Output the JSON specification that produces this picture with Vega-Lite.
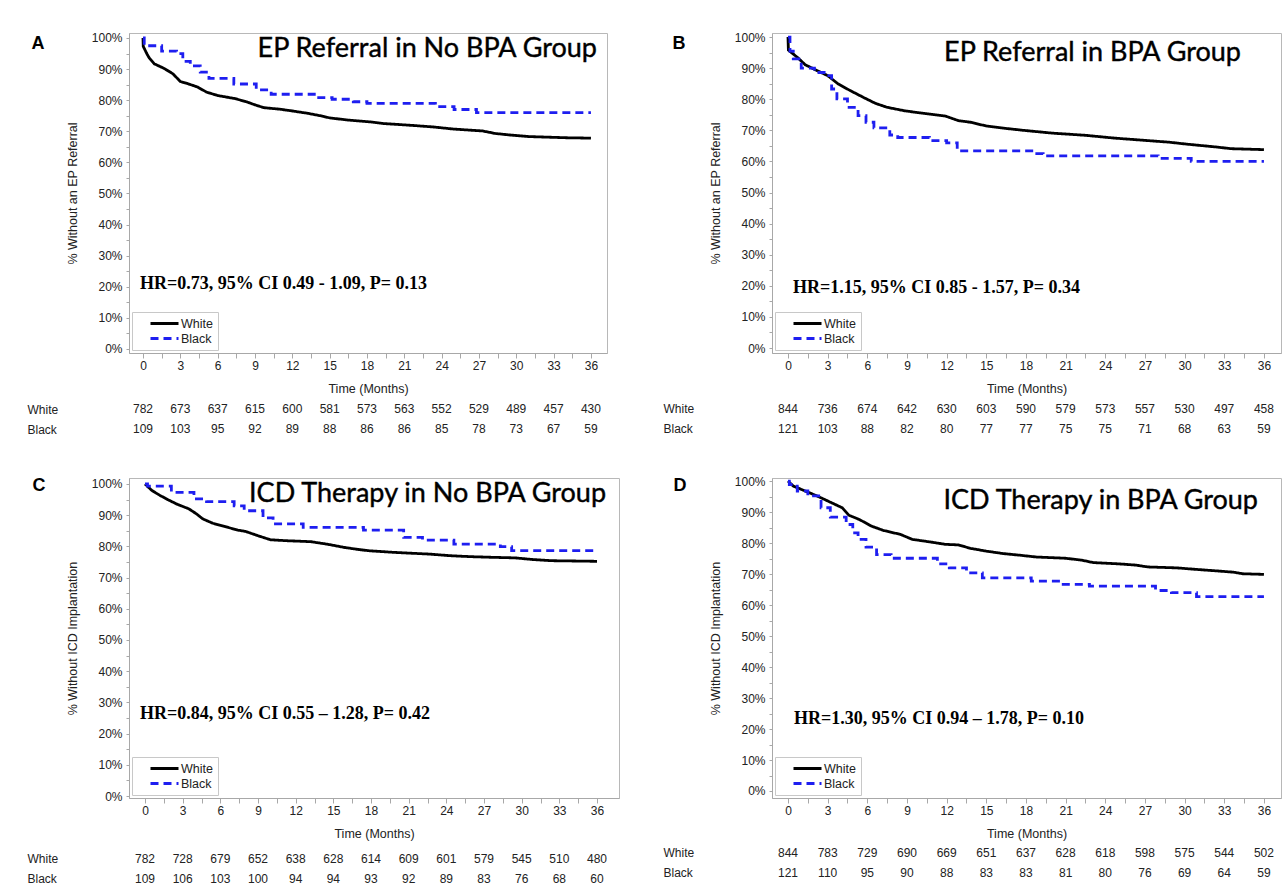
{
"$schema": "https://vega.github.io/schema/vega-lite/v6.json",
"background": "white",
"padding": {"left": 27, "top": 30, "right": 4, "bottom": 4},
"config": {
 "font": "Liberation Sans",
 "view": {"stroke": "#b8b8b8", "strokeWidth": 1},
 "axis": {"grid": false, "domainColor": "#a8a8a8", "tickColor": "#a8a8a8", "labelColor": "#222222", "titleColor": "#222222", "labelFontSize": 12, "titleFontSize": 12.5, "titleFontWeight": "normal", "labelFont": "Liberation Sans", "titleFont": "Liberation Sans", "labelOverlap": false, "labelSeparation": 0},
 "legend": {"orient": "bottom-left", "offset": 3, "strokeColor": "#c8c8c8", "fillColor": "#ffffff", "padding": 5, "symbolType": "M-2.8,0H2.8", "symbolSize": 100, "symbolStrokeWidth": 2.8, "symbolOffset": 21, "labelOffset": 10, "labelFontSize": 12.5, "labelColor": "#222222", "rowPadding": 2, "labelFont": "Liberation Sans"}
},
"resolve": {"scale": {"color": "independent", "strokeDash": "independent"}, "legend": {"color": "independent", "strokeDash": "independent"}},
"datasets": {
 "km": [
  {"panel":"A","group":"White","month":0,"pct":100},{"panel":"A","group":"White","month":0.02,"pct":97.3},{"panel":"A","group":"White","month":0.3,"pct":95},{"panel":"A","group":"White","month":0.5,"pct":93.6},{"panel":"A","group":"White","month":0.9,"pct":91.7},{"panel":"A","group":"White","month":1.7,"pct":90.2},{"panel":"A","group":"White","month":2.4,"pct":88.5},{"panel":"A","group":"White","month":3.0,"pct":86},{"panel":"A","group":"White","month":3.6,"pct":85.3},{"panel":"A","group":"White","month":4.4,"pct":84.2},{"panel":"A","group":"White","month":5.1,"pct":82.6},{"panel":"A","group":"White","month":6.0,"pct":81.5},{"panel":"A","group":"White","month":7.4,"pct":80.5},{"panel":"A","group":"White","month":8.3,"pct":79.5},{"panel":"A","group":"White","month":9.0,"pct":78.5},{"panel":"A","group":"White","month":9.7,"pct":77.6},{"panel":"A","group":"White","month":11.0,"pct":77.1},{"panel":"A","group":"White","month":11.9,"pct":76.6},{"panel":"A","group":"White","month":13.2,"pct":75.8},{"panel":"A","group":"White","month":14.5,"pct":74.8},{"panel":"A","group":"White","month":15.0,"pct":74.3},{"panel":"A","group":"White","month":16.5,"pct":73.6},{"panel":"A","group":"White","month":18.3,"pct":73.0},{"panel":"A","group":"White","month":19.3,"pct":72.5},{"panel":"A","group":"White","month":21.6,"pct":71.9},{"panel":"A","group":"White","month":23.3,"pct":71.4},{"panel":"A","group":"White","month":25.0,"pct":70.7},{"panel":"A","group":"White","month":27.3,"pct":70.1},{"panel":"A","group":"White","month":28.3,"pct":69.3},{"panel":"A","group":"White","month":29.5,"pct":68.8},{"panel":"A","group":"White","month":31.0,"pct":68.3},{"panel":"A","group":"White","month":34.2,"pct":67.9},{"panel":"A","group":"White","month":36,"pct":67.8},
  {"panel":"A","group":"Black","month":0,"pct":100},{"panel":"A","group":"Black","month":0.1,"pct":97.5},{"panel":"A","group":"Black","month":1.5,"pct":95.8},{"panel":"A","group":"Black","month":2.7,"pct":95},{"panel":"A","group":"Black","month":3.2,"pct":92.5},{"panel":"A","group":"Black","month":3.8,"pct":91},{"panel":"A","group":"Black","month":4.6,"pct":89},{"panel":"A","group":"Black","month":5.3,"pct":87},{"panel":"A","group":"Black","month":7.3,"pct":85.2},{"panel":"A","group":"Black","month":9.1,"pct":83.3},{"panel":"A","group":"Black","month":10.3,"pct":81.9},{"panel":"A","group":"Black","month":13.9,"pct":80.8},{"panel":"A","group":"Black","month":15.2,"pct":80.3},{"panel":"A","group":"Black","month":16.9,"pct":79.5},{"panel":"A","group":"Black","month":18.0,"pct":79},{"panel":"A","group":"Black","month":23.5,"pct":77.9},{"panel":"A","group":"Black","month":25.0,"pct":77},{"panel":"A","group":"Black","month":26.8,"pct":76},{"panel":"A","group":"Black","month":36,"pct":76},
  {"panel":"B","group":"White","month":0,"pct":100},{"panel":"B","group":"White","month":0.03,"pct":95.8},{"panel":"B","group":"White","month":0.7,"pct":93.5},{"panel":"B","group":"White","month":1.3,"pct":91.1},{"panel":"B","group":"White","month":2.2,"pct":89.2},{"panel":"B","group":"White","month":3.0,"pct":87.6},{"panel":"B","group":"White","month":3.8,"pct":84.9},{"panel":"B","group":"White","month":4.7,"pct":82.8},{"panel":"B","group":"White","month":5.7,"pct":80.6},{"panel":"B","group":"White","month":6.6,"pct":78.7},{"panel":"B","group":"White","month":7.5,"pct":77.4},{"panel":"B","group":"White","month":8.8,"pct":76.3},{"panel":"B","group":"White","month":10.0,"pct":75.6},{"panel":"B","group":"White","month":11.9,"pct":74.6},{"panel":"B","group":"White","month":12.9,"pct":73.1},{"panel":"B","group":"White","month":13.8,"pct":72.6},{"panel":"B","group":"White","month":15.0,"pct":71.4},{"panel":"B","group":"White","month":16.3,"pct":70.7},{"panel":"B","group":"White","month":17.8,"pct":70.0},{"panel":"B","group":"White","month":20.0,"pct":69.1},{"panel":"B","group":"White","month":22.5,"pct":68.4},{"panel":"B","group":"White","month":24.7,"pct":67.5},{"panel":"B","group":"White","month":26.9,"pct":66.8},{"panel":"B","group":"White","month":28.8,"pct":66.2},{"panel":"B","group":"White","month":30.3,"pct":65.5},{"panel":"B","group":"White","month":32.5,"pct":64.6},{"panel":"B","group":"White","month":33.5,"pct":64.1},{"panel":"B","group":"White","month":36,"pct":63.8},
  {"panel":"B","group":"Black","month":0,"pct":100},{"panel":"B","group":"Black","month":0.15,"pct":95.5},{"panel":"B","group":"Black","month":0.4,"pct":93},{"panel":"B","group":"Black","month":1.0,"pct":90},{"panel":"B","group":"Black","month":2.0,"pct":88.6},{"panel":"B","group":"Black","month":2.9,"pct":87.6},{"panel":"B","group":"Black","month":3.3,"pct":83.3},{"panel":"B","group":"Black","month":3.7,"pct":80.1},{"panel":"B","group":"Black","month":4.5,"pct":77.4},{"panel":"B","group":"Black","month":5.3,"pct":74.7},{"panel":"B","group":"Black","month":5.9,"pct":72.6},{"panel":"B","group":"Black","month":6.5,"pct":70.8},{"panel":"B","group":"Black","month":7.7,"pct":68.5},{"panel":"B","group":"Black","month":8.3,"pct":67.7},{"panel":"B","group":"Black","month":10.7,"pct":66.7},{"panel":"B","group":"Black","month":12.0,"pct":66},{"panel":"B","group":"Black","month":12.8,"pct":63.4},{"panel":"B","group":"Black","month":18.6,"pct":62.5},{"panel":"B","group":"Black","month":19.3,"pct":61.8},{"panel":"B","group":"Black","month":28.0,"pct":61},{"panel":"B","group":"Black","month":30.5,"pct":60},{"panel":"B","group":"Black","month":36,"pct":60},
  {"panel":"C","group":"White","month":0,"pct":100},{"panel":"C","group":"White","month":0.55,"pct":97.9},{"panel":"C","group":"White","month":1.2,"pct":96.3},{"panel":"C","group":"White","month":1.85,"pct":94.9},{"panel":"C","group":"White","month":2.5,"pct":93.6},{"panel":"C","group":"White","month":3.5,"pct":92.0},{"panel":"C","group":"White","month":4.1,"pct":90.4},{"panel":"C","group":"White","month":4.6,"pct":88.8},{"panel":"C","group":"White","month":5.4,"pct":87.4},{"panel":"C","group":"White","month":6.4,"pct":86.3},{"panel":"C","group":"White","month":7.4,"pct":85.2},{"panel":"C","group":"White","month":8.0,"pct":84.8},{"panel":"C","group":"White","month":9.0,"pct":83.4},{"panel":"C","group":"White","month":10.0,"pct":82.1},{"panel":"C","group":"White","month":11.3,"pct":81.8},{"panel":"C","group":"White","month":13.2,"pct":81.5},{"panel":"C","group":"White","month":14.5,"pct":80.7},{"panel":"C","group":"White","month":15.8,"pct":79.7},{"panel":"C","group":"White","month":16.8,"pct":79.1},{"panel":"C","group":"White","month":17.8,"pct":78.6},{"panel":"C","group":"White","month":19.7,"pct":78.1},{"panel":"C","group":"White","month":22.7,"pct":77.5},{"panel":"C","group":"White","month":24.3,"pct":77.0},{"panel":"C","group":"White","month":25.9,"pct":76.7},{"panel":"C","group":"White","month":27.5,"pct":76.5},{"panel":"C","group":"White","month":29.5,"pct":76.3},{"panel":"C","group":"White","month":30.8,"pct":75.8},{"panel":"C","group":"White","month":32.4,"pct":75.4},{"panel":"C","group":"White","month":36,"pct":75.2},
  {"panel":"C","group":"Black","month":0,"pct":100},{"panel":"C","group":"Black","month":0.2,"pct":99.3},{"panel":"C","group":"Black","month":2.1,"pct":97.3},{"panel":"C","group":"Black","month":3.9,"pct":95.2},{"panel":"C","group":"Black","month":4.9,"pct":94.3},{"panel":"C","group":"Black","month":7.1,"pct":93},{"panel":"C","group":"Black","month":7.9,"pct":91.4},{"panel":"C","group":"Black","month":9.4,"pct":89.1},{"panel":"C","group":"Black","month":10.2,"pct":87.2},{"panel":"C","group":"Black","month":12.6,"pct":86.1},{"panel":"C","group":"Black","month":17.4,"pct":85.2},{"panel":"C","group":"Black","month":20.6,"pct":82.9},{"panel":"C","group":"Black","month":22.1,"pct":82},{"panel":"C","group":"Black","month":24.6,"pct":80.7},{"panel":"C","group":"Black","month":28.3,"pct":79.9},{"panel":"C","group":"Black","month":29.2,"pct":78.6},{"panel":"C","group":"Black","month":36,"pct":78.6},
  {"panel":"D","group":"White","month":0,"pct":100},{"panel":"D","group":"White","month":0.4,"pct":98.4},{"panel":"D","group":"White","month":1.3,"pct":96.8},{"panel":"D","group":"White","month":2.2,"pct":95.2},{"panel":"D","group":"White","month":3.2,"pct":93.2},{"panel":"D","group":"White","month":4.1,"pct":91.4},{"panel":"D","group":"White","month":4.6,"pct":89},{"panel":"D","group":"White","month":5.4,"pct":87.6},{"panel":"D","group":"White","month":6.3,"pct":85.5},{"panel":"D","group":"White","month":7.2,"pct":84.1},{"panel":"D","group":"White","month":8.5,"pct":82.8},{"panel":"D","group":"White","month":9.4,"pct":81.2},{"panel":"D","group":"White","month":10.7,"pct":80.4},{"panel":"D","group":"White","month":11.9,"pct":79.6},{"panel":"D","group":"White","month":12.9,"pct":79.4},{"panel":"D","group":"White","month":13.8,"pct":78.3},{"panel":"D","group":"White","month":15.0,"pct":77.4},{"panel":"D","group":"White","month":16.3,"pct":76.6},{"panel":"D","group":"White","month":17.5,"pct":76.1},{"panel":"D","group":"White","month":18.8,"pct":75.5},{"panel":"D","group":"White","month":21,"pct":75.1},{"panel":"D","group":"White","month":22.2,"pct":74.5},{"panel":"D","group":"White","month":23.1,"pct":73.7},{"panel":"D","group":"White","month":25.0,"pct":73.3},{"panel":"D","group":"White","month":26.3,"pct":72.9},{"panel":"D","group":"White","month":27.2,"pct":72.3},{"panel":"D","group":"White","month":29.4,"pct":72.0},{"panel":"D","group":"White","month":30.9,"pct":71.5},{"panel":"D","group":"White","month":32.5,"pct":71.0},{"panel":"D","group":"White","month":33.7,"pct":70.6},{"panel":"D","group":"White","month":34.4,"pct":70.1},{"panel":"D","group":"White","month":36,"pct":69.9},
  {"panel":"D","group":"Black","month":0,"pct":100},{"panel":"D","group":"Black","month":0.1,"pct":98.9},{"panel":"D","group":"Black","month":0.7,"pct":96.8},{"panel":"D","group":"Black","month":1.5,"pct":95.2},{"panel":"D","group":"Black","month":2.5,"pct":91.4},{"panel":"D","group":"Black","month":3.2,"pct":88.4},{"panel":"D","group":"Black","month":4.4,"pct":86},{"panel":"D","group":"Black","month":4.9,"pct":83.3},{"panel":"D","group":"Black","month":5.3,"pct":81.2},{"panel":"D","group":"Black","month":5.9,"pct":78.7},{"panel":"D","group":"Black","month":6.7,"pct":76.3},{"panel":"D","group":"Black","month":7.8,"pct":75.1},{"panel":"D","group":"Black","month":11.3,"pct":73.3},{"panel":"D","group":"Black","month":12.2,"pct":72},{"panel":"D","group":"Black","month":13.5,"pct":70.4},{"panel":"D","group":"Black","month":14.7,"pct":68.8},{"panel":"D","group":"Black","month":18.4,"pct":67.7},{"panel":"D","group":"Black","month":20.6,"pct":66.7},{"panel":"D","group":"Black","month":22.8,"pct":66.1},{"panel":"D","group":"Black","month":27.8,"pct":64.7},{"panel":"D","group":"Black","month":29.0,"pct":64},{"panel":"D","group":"Black","month":30.9,"pct":62.7},{"panel":"D","group":"Black","month":36,"pct":62.7}
 ],
 "risk": [
  {"panel":"A","group":"White","month":0,"n":782},{"panel":"A","group":"White","month":3,"n":673},{"panel":"A","group":"White","month":6,"n":637},{"panel":"A","group":"White","month":9,"n":615},{"panel":"A","group":"White","month":12,"n":600},{"panel":"A","group":"White","month":15,"n":581},{"panel":"A","group":"White","month":18,"n":573},{"panel":"A","group":"White","month":21,"n":563},{"panel":"A","group":"White","month":24,"n":552},{"panel":"A","group":"White","month":27,"n":529},{"panel":"A","group":"White","month":30,"n":489},{"panel":"A","group":"White","month":33,"n":457},{"panel":"A","group":"White","month":36,"n":430},
  {"panel":"A","group":"Black","month":0,"n":109},{"panel":"A","group":"Black","month":3,"n":103},{"panel":"A","group":"Black","month":6,"n":95},{"panel":"A","group":"Black","month":9,"n":92},{"panel":"A","group":"Black","month":12,"n":89},{"panel":"A","group":"Black","month":15,"n":88},{"panel":"A","group":"Black","month":18,"n":86},{"panel":"A","group":"Black","month":21,"n":86},{"panel":"A","group":"Black","month":24,"n":85},{"panel":"A","group":"Black","month":27,"n":78},{"panel":"A","group":"Black","month":30,"n":73},{"panel":"A","group":"Black","month":33,"n":67},{"panel":"A","group":"Black","month":36,"n":59},
  {"panel":"B","group":"White","month":0,"n":844},{"panel":"B","group":"White","month":3,"n":736},{"panel":"B","group":"White","month":6,"n":674},{"panel":"B","group":"White","month":9,"n":642},{"panel":"B","group":"White","month":12,"n":630},{"panel":"B","group":"White","month":15,"n":603},{"panel":"B","group":"White","month":18,"n":590},{"panel":"B","group":"White","month":21,"n":579},{"panel":"B","group":"White","month":24,"n":573},{"panel":"B","group":"White","month":27,"n":557},{"panel":"B","group":"White","month":30,"n":530},{"panel":"B","group":"White","month":33,"n":497},{"panel":"B","group":"White","month":36,"n":458},
  {"panel":"B","group":"Black","month":0,"n":121},{"panel":"B","group":"Black","month":3,"n":103},{"panel":"B","group":"Black","month":6,"n":88},{"panel":"B","group":"Black","month":9,"n":82},{"panel":"B","group":"Black","month":12,"n":80},{"panel":"B","group":"Black","month":15,"n":77},{"panel":"B","group":"Black","month":18,"n":77},{"panel":"B","group":"Black","month":21,"n":75},{"panel":"B","group":"Black","month":24,"n":75},{"panel":"B","group":"Black","month":27,"n":71},{"panel":"B","group":"Black","month":30,"n":68},{"panel":"B","group":"Black","month":33,"n":63},{"panel":"B","group":"Black","month":36,"n":59},
  {"panel":"C","group":"White","month":0,"n":782},{"panel":"C","group":"White","month":3,"n":728},{"panel":"C","group":"White","month":6,"n":679},{"panel":"C","group":"White","month":9,"n":652},{"panel":"C","group":"White","month":12,"n":638},{"panel":"C","group":"White","month":15,"n":628},{"panel":"C","group":"White","month":18,"n":614},{"panel":"C","group":"White","month":21,"n":609},{"panel":"C","group":"White","month":24,"n":601},{"panel":"C","group":"White","month":27,"n":579},{"panel":"C","group":"White","month":30,"n":545},{"panel":"C","group":"White","month":33,"n":510},{"panel":"C","group":"White","month":36,"n":480},
  {"panel":"C","group":"Black","month":0,"n":109},{"panel":"C","group":"Black","month":3,"n":106},{"panel":"C","group":"Black","month":6,"n":103},{"panel":"C","group":"Black","month":9,"n":100},{"panel":"C","group":"Black","month":12,"n":94},{"panel":"C","group":"Black","month":15,"n":94},{"panel":"C","group":"Black","month":18,"n":93},{"panel":"C","group":"Black","month":21,"n":92},{"panel":"C","group":"Black","month":24,"n":89},{"panel":"C","group":"Black","month":27,"n":83},{"panel":"C","group":"Black","month":30,"n":76},{"panel":"C","group":"Black","month":33,"n":68},{"panel":"C","group":"Black","month":36,"n":60},
  {"panel":"D","group":"White","month":0,"n":844},{"panel":"D","group":"White","month":3,"n":783},{"panel":"D","group":"White","month":6,"n":729},{"panel":"D","group":"White","month":9,"n":690},{"panel":"D","group":"White","month":12,"n":669},{"panel":"D","group":"White","month":15,"n":651},{"panel":"D","group":"White","month":18,"n":637},{"panel":"D","group":"White","month":21,"n":628},{"panel":"D","group":"White","month":24,"n":618},{"panel":"D","group":"White","month":27,"n":598},{"panel":"D","group":"White","month":30,"n":575},{"panel":"D","group":"White","month":33,"n":544},{"panel":"D","group":"White","month":36,"n":502},
  {"panel":"D","group":"Black","month":0,"n":121},{"panel":"D","group":"Black","month":3,"n":110},{"panel":"D","group":"Black","month":6,"n":95},{"panel":"D","group":"Black","month":9,"n":90},{"panel":"D","group":"Black","month":12,"n":88},{"panel":"D","group":"Black","month":15,"n":83},{"panel":"D","group":"Black","month":18,"n":83},{"panel":"D","group":"Black","month":21,"n":81},{"panel":"D","group":"Black","month":24,"n":80},{"panel":"D","group":"Black","month":27,"n":76},{"panel":"D","group":"Black","month":30,"n":69},{"panel":"D","group":"Black","month":33,"n":64},{"panel":"D","group":"Black","month":36,"n":59}
 ]
},
"columns": 2,
"spacing": {"row": 32.5, "column": 153},
"bounds": "flush",
"concat": [
 {
  "width": 478, "height": 320,
  "layer": [
   {"data": {"name": "km"}, "transform": [{"filter": "datum.panel === 'A' && datum.group === 'White'"}], "mark": {"type": "line", "interpolate": "linear", "strokeWidth": 2.8},
    "encoding": {
     "x": {"field": "month", "type": "quantitative", "scale": {"domain": [-1.125, 37.29], "nice": false, "zero": false}, "axis": {"title": "Time (Months)", "values": [0,1.5,3,4.5,6,7.5,9,10.5,12,13.5,15,16.5,18,19.5,21,22.5,24,25.5,27,28.5,30,31.5,33,34.5,36], "tickCount": 100, "labelExpr": "datum.value % 3 === 0 ? '' + datum.value : ''", "tickSize": 5, "labelPadding": 2, "titlePadding": 11, "labelFlush": false, "labelOverlap": false}},
     "y": {"field": "pct", "type": "quantitative", "scale": {"domain": [-1.29, 101.6], "nice": false, "zero": false}, "axis": {"title": "% Without an EP Referral", "values": [0,5,10,15,20,25,30,35,40,45,50,55,60,65,70,75,80,85,90,95,100], "tickCount": 100, "labelExpr": "datum.value % 10 === 0 ? datum.value + '%' : ''", "tickSize": 3, "labelPadding": 4, "titlePadding": 12, "labelOverlap": false}},
     "color": {"field": "group", "type": "nominal", "scale": {"domain": ["White","Black"], "range": ["#000000","#1e1ef0"]}, "legend": {"title": null}},
     "strokeDash": {"field": "group", "type": "nominal", "scale": {"domain": ["White","Black"], "range": [[1,0],[8,5]]}, "legend": {"title": null}}}},
   {"data": {"name": "km"}, "transform": [{"filter": "datum.panel === 'A' && datum.group === 'Black'"}], "mark": {"type": "line", "interpolate": "step-after", "strokeWidth": 2.8},
    "encoding": {
     "x": {"field": "month", "type": "quantitative"},
     "y": {"field": "pct", "type": "quantitative"},
     "color": {"field": "group", "type": "nominal", "scale": {"domain": ["White","Black"], "range": ["#000000","#1e1ef0"]}, "legend": {"title": null}},
     "strokeDash": {"field": "group", "type": "nominal", "scale": {"domain": ["White","Black"], "range": [[1,0],[8,5]]}, "legend": {"title": null}}}},
   {"data": {"values": [{"note": "title"}]}, "mark": {"type": "text", "align": "right", "baseline": "middle", "font": "Lato", "fontSize": 27, "color": "#000000", "stroke": "#000000", "strokeWidth": 0.4, "text": "EP Referral in No BPA Group"}, "encoding": {"x": {"datum": 36.48}, "y": {"datum": 96.45}}},
   {"data": {"values": [{"note": "hr"}]}, "mark": {"type": "text", "align": "left", "baseline": "middle", "font": "Liberation Serif", "fontWeight": "bold", "fontSize": 18, "color": "#000000", "text": "HR=0.73, 95% CI 0.49 - 1.09, P= 0.13"}, "encoding": {"x": {"datum": -0.24}, "y": {"datum": 20.9}}},
   {"data": {"values": [{"note": "letter"}]}, "mark": {"type": "text", "align": "center", "baseline": "middle", "font": "Liberation Sans", "fontWeight": "bold", "fontSize": 18, "color": "#000000", "text": "A"}, "encoding": {"x": {"datum": -8.44}, "y": {"datum": 98.06}}}
  ]
 },
 {
  "width": 509, "height": 320,
  "layer": [
   {"data": {"name": "km"}, "transform": [{"filter": "datum.panel === 'B' && datum.group === 'White'"}], "mark": {"type": "line", "interpolate": "linear", "strokeWidth": 2.8},
    "encoding": {
     "x": {"field": "month", "type": "quantitative", "scale": {"domain": [-1.21, 37.29], "nice": false, "zero": false}, "axis": {"title": "Time (Months)", "values": [0,1.5,3,4.5,6,7.5,9,10.5,12,13.5,15,16.5,18,19.5,21,22.5,24,25.5,27,28.5,30,31.5,33,34.5,36], "tickCount": 100, "labelExpr": "datum.value % 3 === 0 ? '' + datum.value : ''", "tickSize": 5, "labelPadding": 2, "titlePadding": 11, "labelFlush": false, "labelOverlap": false}},
     "y": {"field": "pct", "type": "quantitative", "scale": {"domain": [-1.6, 101.3], "nice": false, "zero": false}, "axis": {"title": "% Without an EP Referral", "values": [0,5,10,15,20,25,30,35,40,45,50,55,60,65,70,75,80,85,90,95,100], "tickCount": 100, "labelExpr": "datum.value % 10 === 0 ? datum.value + '%' : ''", "tickSize": 3, "labelPadding": 4, "titlePadding": 12, "labelOverlap": false}},
     "color": {"field": "group", "type": "nominal", "scale": {"domain": ["White","Black"], "range": ["#000000","#1e1ef0"]}, "legend": {"title": null}},
     "strokeDash": {"field": "group", "type": "nominal", "scale": {"domain": ["White","Black"], "range": [[1,0],[8,5]]}, "legend": {"title": null}}}},
   {"data": {"name": "km"}, "transform": [{"filter": "datum.panel === 'B' && datum.group === 'Black'"}], "mark": {"type": "line", "interpolate": "step-after", "strokeWidth": 2.8},
    "encoding": {
     "x": {"field": "month", "type": "quantitative"},
     "y": {"field": "pct", "type": "quantitative"},
     "color": {"field": "group", "type": "nominal", "scale": {"domain": ["White","Black"], "range": ["#000000","#1e1ef0"]}, "legend": {"title": null}},
     "strokeDash": {"field": "group", "type": "nominal", "scale": {"domain": ["White","Black"], "range": [[1,0],[8,5]]}, "legend": {"title": null}}}},
   {"data": {"values": [{"note": "title"}]}, "mark": {"type": "text", "align": "right", "baseline": "middle", "font": "Lato", "fontSize": 27, "color": "#000000", "stroke": "#000000", "strokeWidth": 0.4, "text": "EP Referral in BPA Group"}, "encoding": {"x": {"datum": 34.26}, "y": {"datum": 94.87}}},
   {"data": {"values": [{"note": "hr"}]}, "mark": {"type": "text", "align": "left", "baseline": "middle", "font": "Liberation Serif", "fontWeight": "bold", "fontSize": 18, "color": "#000000", "text": "HR=1.15, 95% CI 0.85 - 1.57, P= 0.34"}, "encoding": {"x": {"datum": 0.38}, "y": {"datum": 19.3}}},
   {"data": {"values": [{"note": "letter"}]}, "mark": {"type": "text", "align": "center", "baseline": "middle", "font": "Liberation Sans", "fontWeight": "bold", "fontSize": 18, "color": "#000000", "text": "B"}, "encoding": {"x": {"datum": -8.24}, "y": {"datum": 97.76}}}
  ]
 },
 {
  "width": 478, "height": 60, "view": {"stroke": null},
  "data": {"name": "risk"},
  "transform": [{"filter": "datum.panel === 'A'"}],
  "mark": {"type": "text", "fontSize": 12, "color": "#222222", "font": "Liberation Sans"},
  "encoding": {
   "x": {"field": "month", "type": "quantitative", "scale": {"domain": [-1.125, 37.29], "nice": false, "zero": false}, "axis": null},
   "y": {"field": "group", "type": "nominal", "scale": {"type": "point", "domain": ["White","Black"], "padding": 1.1667, "align": 0.595}, "axis": {"title": null, "ticks": false, "tickSize": 0, "domain": false, "labelAlign": "left", "labelBaseline": "middle", "labelPadding": 102, "labelFontSize": 12}},
   "text": {"field": "n", "type": "nominal"}
  }
 },
 {
  "width": 509, "height": 60, "view": {"stroke": null},
  "data": {"name": "risk"},
  "transform": [{"filter": "datum.panel === 'B'"}],
  "mark": {"type": "text", "fontSize": 12, "color": "#222222", "font": "Liberation Sans"},
  "encoding": {
   "x": {"field": "month", "type": "quantitative", "scale": {"domain": [-1.21, 37.29], "nice": false, "zero": false}, "axis": null},
   "y": {"field": "group", "type": "nominal", "scale": {"type": "point", "domain": ["White","Black"], "padding": 1.1667, "align": 0.583}, "axis": {"title": null, "ticks": false, "tickSize": 0, "domain": false, "labelAlign": "left", "labelBaseline": "middle", "labelPadding": 109, "labelFontSize": 12}},
   "text": {"field": "n", "type": "nominal"}
  }
 },
 {
  "width": 490, "height": 320,
  "layer": [
   {"data": {"name": "km"}, "transform": [{"filter": "datum.panel === 'C' && datum.group === 'White'"}], "mark": {"type": "line", "interpolate": "linear", "strokeWidth": 2.8},
    "encoding": {
     "x": {"field": "month", "type": "quantitative", "scale": {"domain": [-1.274, 37.75], "nice": false, "zero": false}, "axis": {"title": "Time (Months)", "values": [0,1.5,3,4.5,6,7.5,9,10.5,12,13.5,15,16.5,18,19.5,21,22.5,24,25.5,27,28.5,30,31.5,33,34.5,36], "tickCount": 100, "labelExpr": "datum.value % 3 === 0 ? '' + datum.value : ''", "tickSize": 5, "labelPadding": 2, "titlePadding": 11, "labelFlush": false, "labelOverlap": false}},
     "y": {"field": "pct", "type": "quantitative", "scale": {"domain": [-0.64, 101.9], "nice": false, "zero": false}, "axis": {"title": "% Without ICD Implantation", "values": [0,5,10,15,20,25,30,35,40,45,50,55,60,65,70,75,80,85,90,95,100], "tickCount": 100, "labelExpr": "datum.value % 10 === 0 ? datum.value + '%' : ''", "tickSize": 3, "labelPadding": 4, "titlePadding": 12, "labelOverlap": false}},
     "color": {"field": "group", "type": "nominal", "scale": {"domain": ["White","Black"], "range": ["#000000","#1e1ef0"]}, "legend": {"title": null}},
     "strokeDash": {"field": "group", "type": "nominal", "scale": {"domain": ["White","Black"], "range": [[1,0],[8,5]]}, "legend": {"title": null}}}},
   {"data": {"name": "km"}, "transform": [{"filter": "datum.panel === 'C' && datum.group === 'Black'"}], "mark": {"type": "line", "interpolate": "step-after", "strokeWidth": 2.8},
    "encoding": {
     "x": {"field": "month", "type": "quantitative"},
     "y": {"field": "pct", "type": "quantitative"},
     "color": {"field": "group", "type": "nominal", "scale": {"domain": ["White","Black"], "range": ["#000000","#1e1ef0"]}, "legend": {"title": null}},
     "strokeDash": {"field": "group", "type": "nominal", "scale": {"domain": ["White","Black"], "range": [[1,0],[8,5]]}, "legend": {"title": null}}}},
   {"data": {"values": [{"note": "title"}]}, "mark": {"type": "text", "align": "right", "baseline": "middle", "font": "Lato", "fontSize": 27, "color": "#000000", "stroke": "#000000", "strokeWidth": 0.4, "text": "ICD Therapy in No BPA Group"}, "encoding": {"x": {"datum": 36.72}, "y": {"datum": 96.77}}},
   {"data": {"values": [{"note": "hr"}]}, "mark": {"type": "text", "align": "left", "baseline": "middle", "font": "Liberation Serif", "fontWeight": "bold", "fontSize": 18, "color": "#000000", "text": "HR=0.84, 95% CI 0.55 – 1.28, P= 0.42"}, "encoding": {"x": {"datum": -0.4}, "y": {"datum": 26.26}}},
   {"data": {"values": [{"note": "letter"}]}, "mark": {"type": "text", "align": "center", "baseline": "middle", "font": "Liberation Sans", "fontWeight": "bold", "fontSize": 18, "color": "#000000", "text": "C"}, "encoding": {"x": {"datum": -8.44}, "y": {"datum": 99.3}}}
  ]
 },
 {
  "width": 509, "height": 320,
  "layer": [
   {"data": {"name": "km"}, "transform": [{"filter": "datum.panel === 'D' && datum.group === 'White'"}], "mark": {"type": "line", "interpolate": "linear", "strokeWidth": 2.8},
    "encoding": {
     "x": {"field": "month", "type": "quantitative", "scale": {"domain": [-1.21, 37.29], "nice": false, "zero": false}, "axis": {"title": "Time (Months)", "values": [0,1.5,3,4.5,6,7.5,9,10.5,12,13.5,15,16.5,18,19.5,21,22.5,24,25.5,27,28.5,30,31.5,33,34.5,36], "tickCount": 100, "labelExpr": "datum.value % 3 === 0 ? '' + datum.value : ''", "tickSize": 5, "labelPadding": 2, "titlePadding": 11, "labelFlush": false, "labelOverlap": false}},
     "y": {"field": "pct", "type": "quantitative", "scale": {"domain": [-2.26, 101.0], "nice": false, "zero": false}, "axis": {"title": "% Without ICD Implantation", "values": [0,5,10,15,20,25,30,35,40,45,50,55,60,65,70,75,80,85,90,95,100], "tickCount": 100, "labelExpr": "datum.value % 10 === 0 ? datum.value + '%' : ''", "tickSize": 3, "labelPadding": 4, "titlePadding": 12, "labelOverlap": false}},
     "color": {"field": "group", "type": "nominal", "scale": {"domain": ["White","Black"], "range": ["#000000","#1e1ef0"]}, "legend": {"title": null}},
     "strokeDash": {"field": "group", "type": "nominal", "scale": {"domain": ["White","Black"], "range": [[1,0],[8,5]]}, "legend": {"title": null}}}},
   {"data": {"name": "km"}, "transform": [{"filter": "datum.panel === 'D' && datum.group === 'Black'"}], "mark": {"type": "line", "interpolate": "step-after", "strokeWidth": 2.8},
    "encoding": {
     "x": {"field": "month", "type": "quantitative"},
     "y": {"field": "pct", "type": "quantitative"},
     "color": {"field": "group", "type": "nominal", "scale": {"domain": ["White","Black"], "range": ["#000000","#1e1ef0"]}, "legend": {"title": null}},
     "strokeDash": {"field": "group", "type": "nominal", "scale": {"domain": ["White","Black"], "range": [[1,0],[8,5]]}, "legend": {"title": null}}}},
   {"data": {"values": [{"note": "title"}]}, "mark": {"type": "text", "align": "right", "baseline": "middle", "font": "Lato", "fontSize": 27, "color": "#000000", "stroke": "#000000", "strokeWidth": 0.4, "text": "ICD Therapy in BPA Group"}, "encoding": {"x": {"datum": 35.55}, "y": {"datum": 93.58}}},
   {"data": {"values": [{"note": "hr"}]}, "mark": {"type": "text", "align": "left", "baseline": "middle", "font": "Liberation Serif", "fontWeight": "bold", "fontSize": 18, "color": "#000000", "text": "HR=1.30, 95% CI 0.94 – 1.78, P= 0.10"}, "encoding": {"x": {"datum": 0.45}, "y": {"datum": 23.26}}},
   {"data": {"values": [{"note": "letter"}]}, "mark": {"type": "text", "align": "center", "baseline": "middle", "font": "Liberation Sans", "fontWeight": "bold", "fontSize": 18, "color": "#000000", "text": "D"}, "encoding": {"x": {"datum": -8.17}, "y": {"datum": 98.4}}}
  ]
 },
 {
  "width": 490, "height": 60, "view": {"stroke": null},
  "data": {"name": "risk"},
  "transform": [{"filter": "datum.panel === 'C'"}],
  "mark": {"type": "text", "fontSize": 12, "color": "#222222", "font": "Liberation Sans"},
  "encoding": {
   "x": {"field": "month", "type": "quantitative", "scale": {"domain": [-1.274, 37.75], "nice": false, "zero": false}, "axis": null},
   "y": {"field": "group", "type": "nominal", "scale": {"type": "point", "domain": ["White","Black"], "padding": 1.1667, "align": 0.702}, "axis": {"title": null, "ticks": false, "tickSize": 0, "domain": false, "labelAlign": "left", "labelBaseline": "middle", "labelPadding": 102, "labelFontSize": 12}},
   "text": {"field": "n", "type": "nominal"}
  }
 },
 {
  "width": 509, "height": 60, "view": {"stroke": null},
  "data": {"name": "risk"},
  "transform": [{"filter": "datum.panel === 'D'"}],
  "mark": {"type": "text", "fontSize": 12, "color": "#222222", "font": "Liberation Sans"},
  "encoding": {
   "x": {"field": "month", "type": "quantitative", "scale": {"domain": [-1.21, 37.29], "nice": false, "zero": false}, "axis": null},
   "y": {"field": "group", "type": "nominal", "scale": {"type": "point", "domain": ["White","Black"], "padding": 1.1667, "align": 0.56}, "axis": {"title": null, "ticks": false, "tickSize": 0, "domain": false, "labelAlign": "left", "labelBaseline": "middle", "labelPadding": 109, "labelFontSize": 12}},
   "text": {"field": "n", "type": "nominal"}
  }
 }
]
}
